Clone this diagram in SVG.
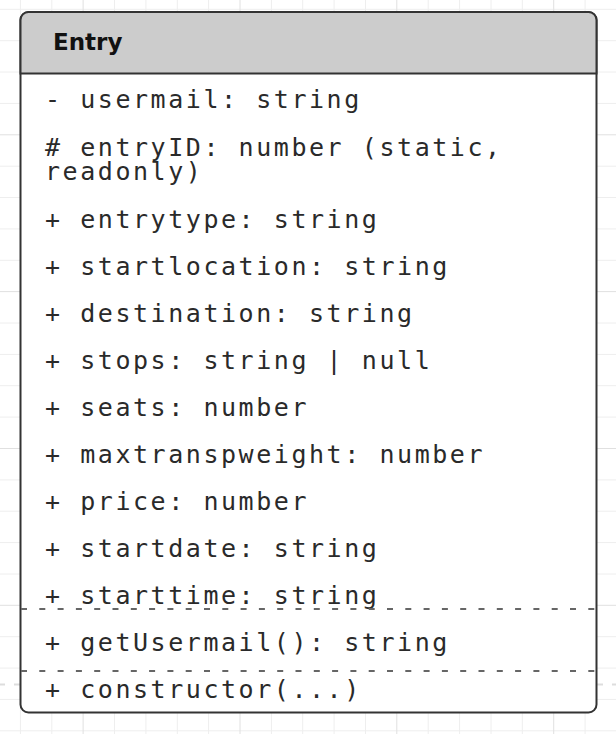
<svg xmlns="http://www.w3.org/2000/svg" width="616" height="734" viewBox="0 0 616 734">
<style>
.minor{stroke:#eeeeee;stroke-width:1;fill:none}
.major{stroke:#e0e0e0;stroke-width:1;fill:none}
.pb{stroke:#dddddd;stroke-width:2;fill:none;stroke-dasharray:6 8.95}
.box{fill:#ffffff;stroke:#333333;stroke-width:2}
.hdr{fill:#cccccc;stroke:#333333;stroke-width:2}
.sep{stroke:#666666;stroke-width:2;stroke-dasharray:6 12.3;fill:none}
.title{font-family:"DejaVu Sans",sans-serif;font-weight:bold;font-size:23px;fill:#111111}
.m{font-family:"DejaVu Sans Mono",monospace;font-size:25px;letter-spacing:2.55px;fill:#2a2a2a}
</style>
<rect width="616" height="734" fill="#ffffff"/>
<g id="grid">
<path class="minor" d="M20.4 0V734M51.8 0V734M114.5 0V734M145.9 0V734M177.3 0V734M208.6 0V734M271.4 0V734M302.7 0V734M334.1 0V734M365.5 0V734M428.2 0V734M459.6 0V734M491 0V734M522.3 0V734M585.1 0V734M0 9.3H616M0 40.7H616M0 72H616M0 103.4H616M0 166.2H616M0 197.5H616M0 228.9H616M0 260.3H616M0 323H616M0 354.4H616M0 385.7H616M0 417.1H616M0 479.9H616M0 511.2H616M0 542.6H616M0 574H616M0 636.7H616M0 668.1H616M0 699.4H616M0 730.8H616"/>
<path class="major" d="M83.1 0V734M240 0V734M396.8 0V734M553.7 0V734M0 134.8H616M0 291.6H616M0 448.5H616M0 605.3H616"/>
<path class="pb" d="M-1 684.5H616"/>
</g>
<g id="entry">
<rect class="box" x="20.5" y="12" width="576" height="700.5" rx="8" ry="8"/>
<path class="hdr" d="M20.5 73.5V20A8 8 0 0 1 28.5 12H588.5A8 8 0 0 1 596.5 20V73.5Z"/>
<text class="title" x="53" y="50">Entry</text>
<text class="m" x="45" y="108">- usermail: string</text>
<text class="m" x="45" y="156"># entryID: number (static,</text>
<text class="m" x="45" y="180">readonly)</text>
<text class="m" x="45" y="228">+ entrytype: string</text>
<text class="m" x="45" y="275">+ startlocation: string</text>
<text class="m" x="45" y="322">+ destination: string</text>
<text class="m" x="45" y="369">+ stops: string | null</text>
<text class="m" x="45" y="416">+ seats: number</text>
<text class="m" x="45" y="463">+ maxtranspweight: number</text>
<text class="m" x="45" y="510">+ price: number</text>
<text class="m" x="45" y="557">+ startdate: string</text>
<text class="m" x="45" y="604">+ starttime: string</text>
<path class="sep" d="M21 609H600"/>
<text class="m" x="45" y="651">+ getUsermail(): string</text>
<path class="sep" d="M21 671H600"/>
<text class="m" x="45" y="698">+ constructor(...)</text>
</g>
</svg>
